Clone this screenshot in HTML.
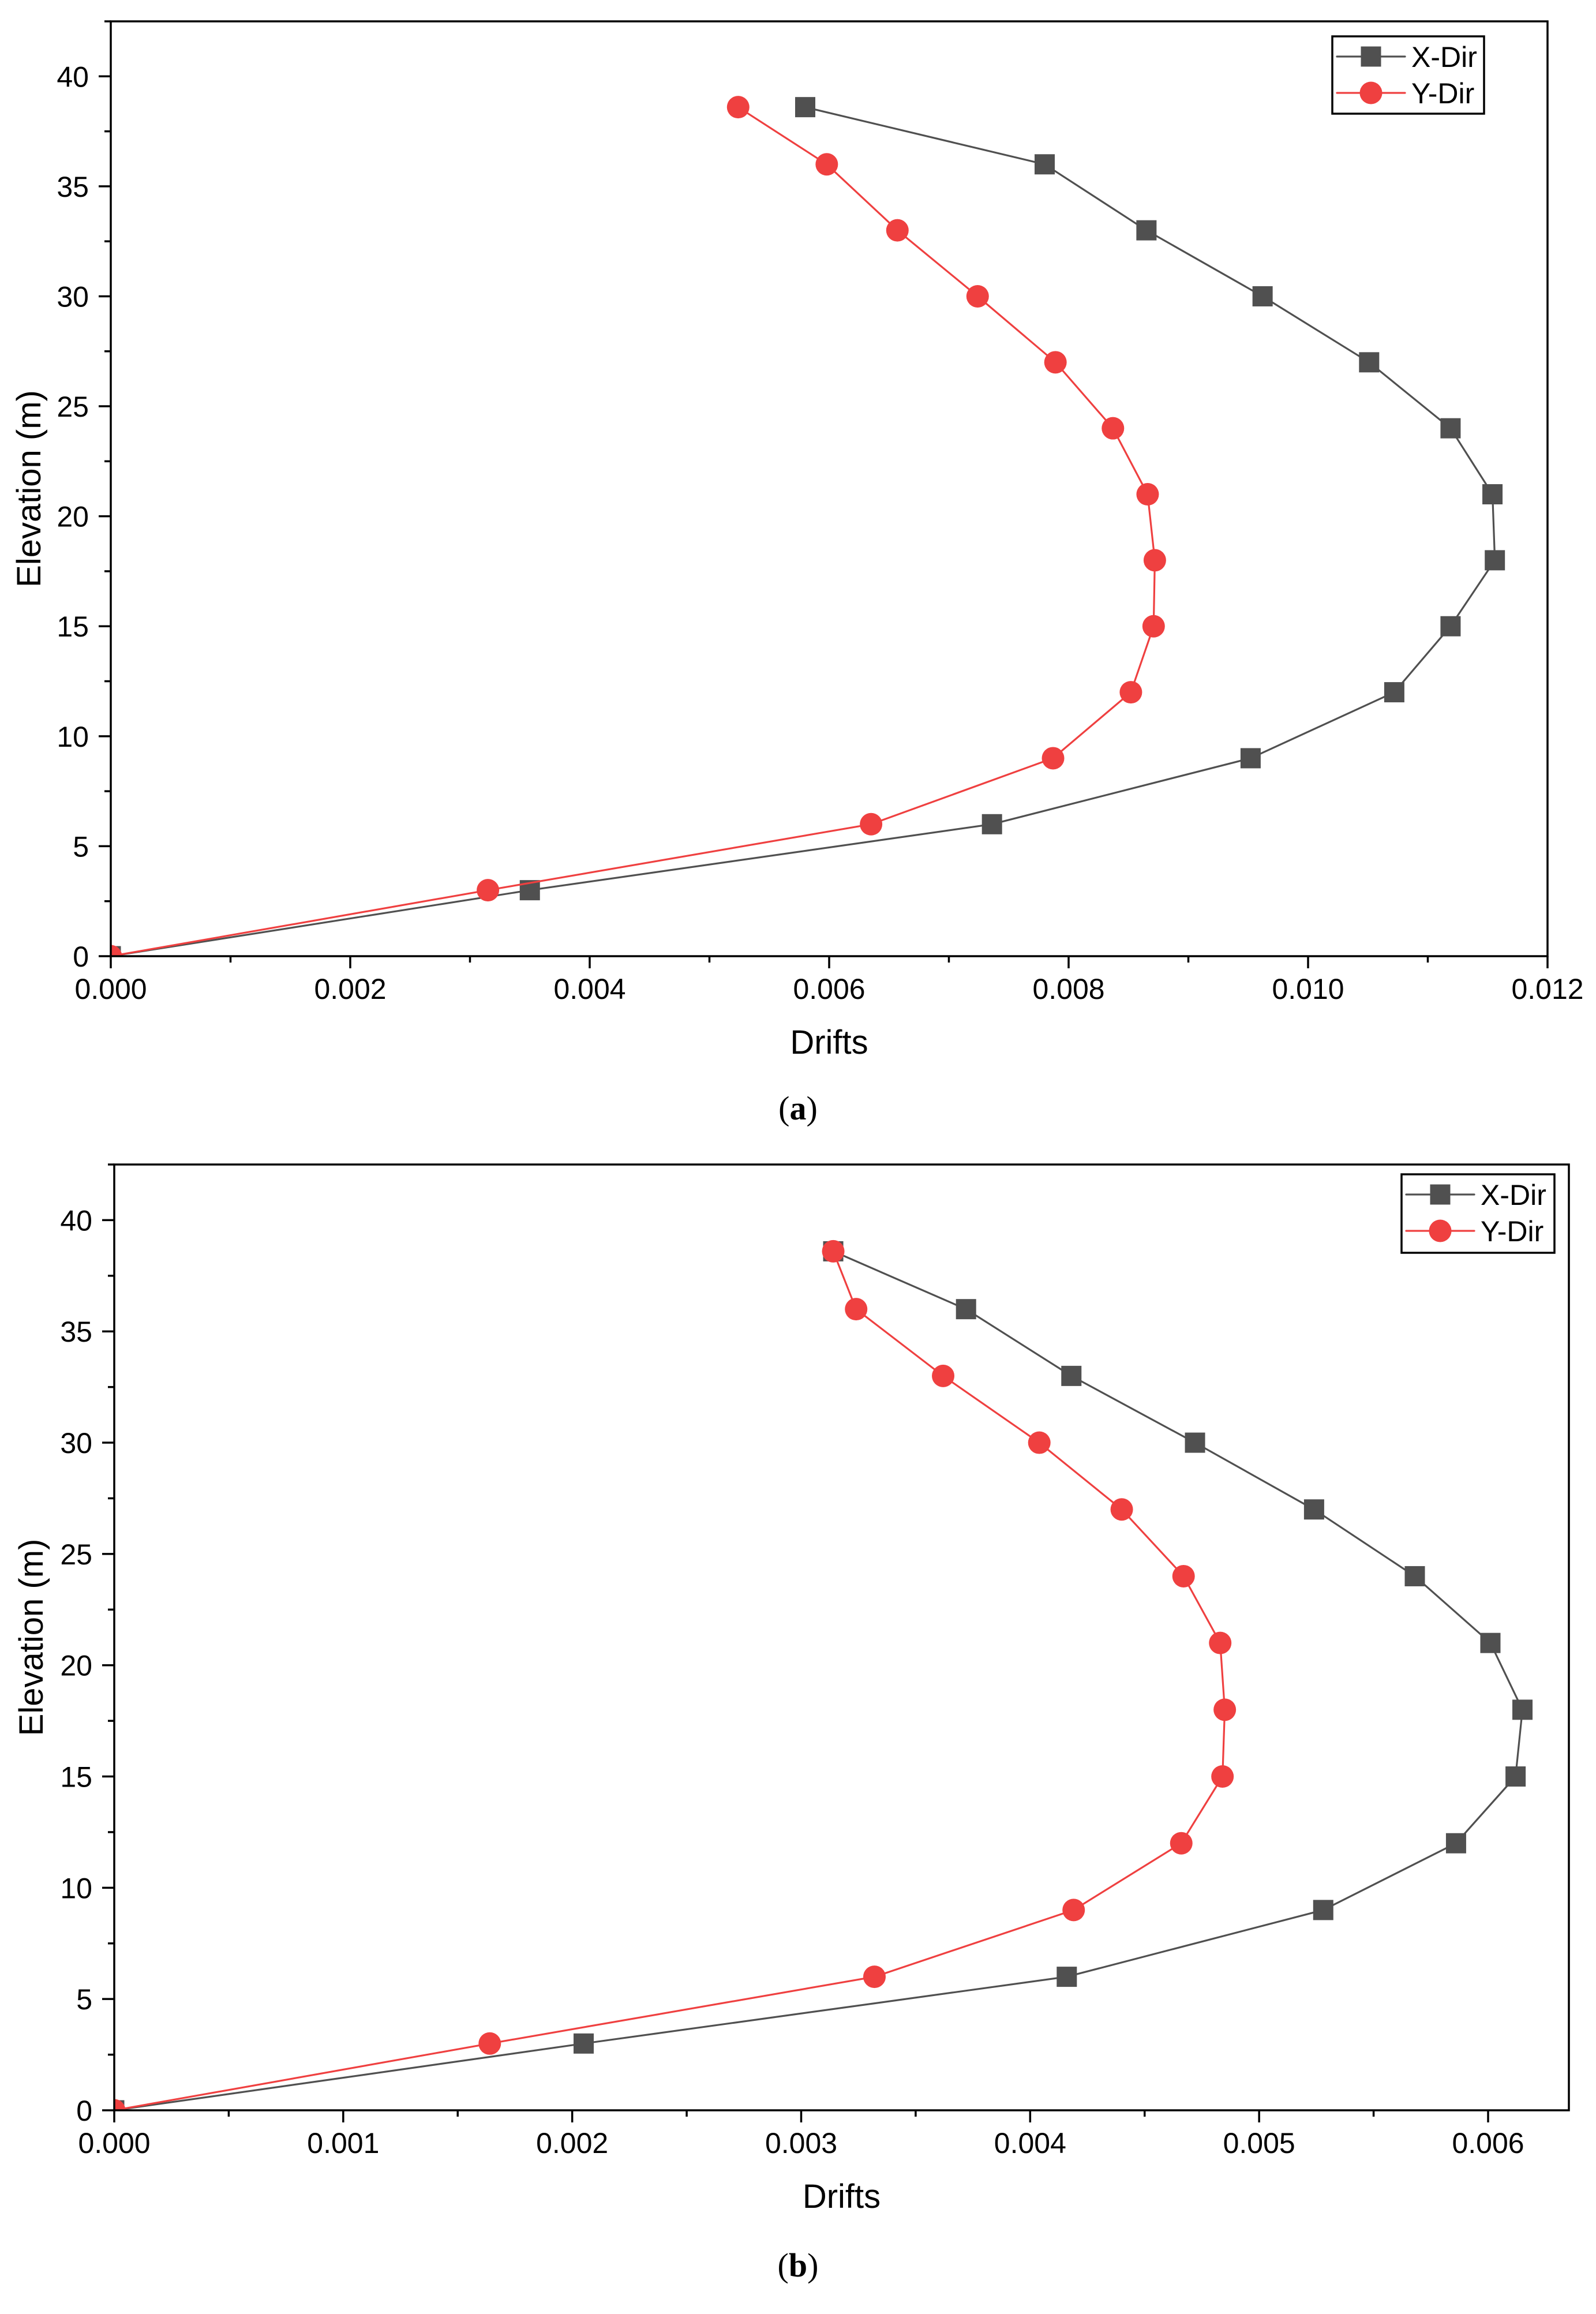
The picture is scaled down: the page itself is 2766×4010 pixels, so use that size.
<!DOCTYPE html>
<html><head><meta charset="utf-8"><style>
html,body{margin:0;padding:0;background:#fff;}
svg{display:block;}
text{font-family:"Liberation Sans",Arial,sans-serif;fill:#000;}
.cap{font-family:"Liberation Serif","Times New Roman",serif;}
</style></head><body>
<svg id="root" width="2766" height="4010" viewBox="0 0 2766 4010" xmlns="http://www.w3.org/2000/svg">
<rect width="2766" height="4010" fill="#fff"/>
</svg>
<script>
const elevations = [0, 3, 6, 9, 12, 15, 18, 21, 24, 27, 30, 33, 36, 38.6];
const aXDir = [0, 0.0035, 0.00736, 0.00952, 0.01072, 0.01119, 0.01156, 0.01154, 0.01119, 0.01051, 0.00962, 0.00865, 0.0078, 0.0058];
const aYDir = [0, 0.00315, 0.00635, 0.00787, 0.00852, 0.00871, 0.00872, 0.00866, 0.00837, 0.00789, 0.00724, 0.00657, 0.00598, 0.00524];
const bXDir = [0, 0.00205, 0.00416, 0.00528, 0.00586, 0.00612, 0.00615, 0.00601, 0.00568, 0.00524, 0.00472, 0.00418, 0.00372, 0.00314];
const bYDir = [0, 0.00164, 0.00332, 0.00419, 0.00466, 0.00484, 0.00485, 0.00483, 0.00467, 0.0044, 0.00404, 0.00362, 0.00324, 0.00314];
const aXTicks = ["0.000","0.002","0.004","0.006","0.008","0.010","0.012"];
const bXTicks = ["0.000","0.001","0.002","0.003","0.004","0.005","0.006"];
const yTicks = ["0","5","10","15","20","25","30","35","40"];

const NS = "http://www.w3.org/2000/svg";
const root = document.getElementById('root');
function mk(parent, tag, attrs, txt){
  const e = document.createElementNS(NS, tag);
  for (const k in attrs) e.setAttribute(k, attrs[k]);
  if (txt !== undefined) e.textContent = txt;
  parent.appendChild(e);
  return e;
}

function chart(cfg){
  const g = mk(root, 'g', {});
  
  
  const L=cfg.L, R=cfg.R, T=cfg.T, B=cfg.B;
  const xs = v => L + (v - 0) / (cfg.xMax) * (R - L);
  const ys = v => B - v / cfg.yMax * (B - T);
  const cid = 'clip-' + cfg.name;
  const cp0 = mk(g,'clipPath',{id:cid});
  mk(cp0,'rect',{x:L,y:T,width:R-L,height:B-T});
  const series = [
    {vals: cfg.x, color:'#505050', name:'x-dir', marker:'sq'},
    {vals: cfg.y, color:'#EF4040', name:'y-dir', marker:'ci'}
  ];
  series.forEach(s=>{
    const sg = mk(g,'g',{'clip-path':'url(#'+cid+')'});
    
    
    const pts = s.vals.map((v,i)=>xs(v).toFixed(1)+','+ys(elevations[i]).toFixed(1)).join(' ');
    const pl = mk(sg,'polyline',{points:pts, fill:'none', stroke:s.color, 'stroke-width':3.2, 'stroke-linejoin':'round'});
    
    
    s.vals.forEach((v,i)=>{
      let m;
      if (s.marker==='sq') m = mk(sg,'rect',{x:xs(v)-17.5,y:ys(elevations[i])-17.5,width:35,height:35,fill:s.color});
      else m = mk(sg,'circle',{cx:xs(v),cy:ys(elevations[i]),r:19.5,fill:s.color});
      
      
    });
  });
  const fr = mk(g,'rect',{x:L,y:T,width:R-L,height:B-T,fill:'none',stroke:'#000','stroke-width':3.5});
  
  
  const nX = cfg.xTicks.length-1;
  for (let i=0;i<=nX*2;i++){
    const v = cfg.xStep/2*i;
    if (v > cfg.xMax+1e-9) break;
    const x = xs(v);
    mk(g,'line',{x1:x,y1:B,x2:x,y2:B+(i%2?11:21),stroke:'#000','stroke-width':3.5});
  }
  cfg.xTicks.forEach((t,i)=>{
    const tx = mk(g,'text',{x:xs(cfg.xStep*i),y:B+74,'font-size':50,'text-anchor':'middle'},t);
    
    
  });
  for (let i=0;i<=17;i++){
    const v = 2.5*i;
    const y = ys(v);
    mk(g,'line',{x1:L,y1:y,x2:L-(i%2?11:21),y2:y,stroke:'#000','stroke-width':3.5});
  }
  yTicks.forEach((t,i)=>{
    const tx = mk(g,'text',{x:L-38,y:ys(5*i)+18,'font-size':50,'text-anchor':'end'},t);
    
    
  });
  const xt = mk(g,'text',{x:(L+R)/2,y:cfg.xTitleY,'font-size':58,'text-anchor':'middle'},'Drifts');
  
  
  const cy = (T+B)/2;
  const yt = mk(g,'text',{x:0,y:0,'font-size':58,'text-anchor':'middle',transform:`translate(${cfg.yTitleX},${cy}) rotate(-90)`},'Elevation (m)');
  
  
  const lg = mk(g,'g',{});
  
  
  const lb = cfg.leg;
  mk(lg,'rect',{x:lb.x,y:lb.y,width:lb.w,height:lb.h,fill:'#fff',stroke:'#000','stroke-width':3.5});
  series.forEach((s,i)=>{
    const ry = lb.y + 35 + i*63;
    const e = mk(lg,'g',{});
    
    
    mk(e,'line',{x1:lb.x+8,y1:ry,x2:lb.x+126,y2:ry,stroke:s.color,'stroke-width':3.2,'stroke-linecap':'round'});
    if (s.marker==='sq') mk(e,'rect',{x:lb.x+67-17.5,y:ry-17.5,width:35,height:35,fill:s.color});
    else mk(e,'circle',{cx:lb.x+67,cy:ry,r:19.5,fill:s.color});
    mk(e,'text',{x:lb.x+137,y:ry+18,'font-size':50},i===0?'X-Dir':'Y-Dir');
  });
  const cp = mk(g,'text',{x:cfg.capX,y:cfg.capY,'font-size':58,'text-anchor':'middle','class':'cap'});
  
  
  mk(cp,'tspan',{},'(');
  mk(cp,'tspan',{'font-weight':'bold'},cfg.cap);
  mk(cp,'tspan',{},')');
}

chart({name:'chart-a', L:192, R:2682, T:37, B:1657, xMax:0.012, xStep:0.002, yMax:42.5,
  x:aXDir, y:aYDir, xTicks:aXTicks, xTitleY:1826, yTitleX:70,
  leg:{x:2309,y:63,w:263,h:134}, cap:'a', capX:1383, capY:1940});
chart({name:'chart-b', L:198, R:2719, T:2018, B:3657, xMax:0.006*(2719-198)/(2579-198), xStep:0.001, yMax:42.5,
  x:bXDir, y:bYDir, xTicks:bXTicks, xTitleY:3826, yTitleX:74,
  leg:{x:2429,y:2035,w:265,h:136}, cap:'b', capX:1383, capY:3945});
</script>
</body></html>
